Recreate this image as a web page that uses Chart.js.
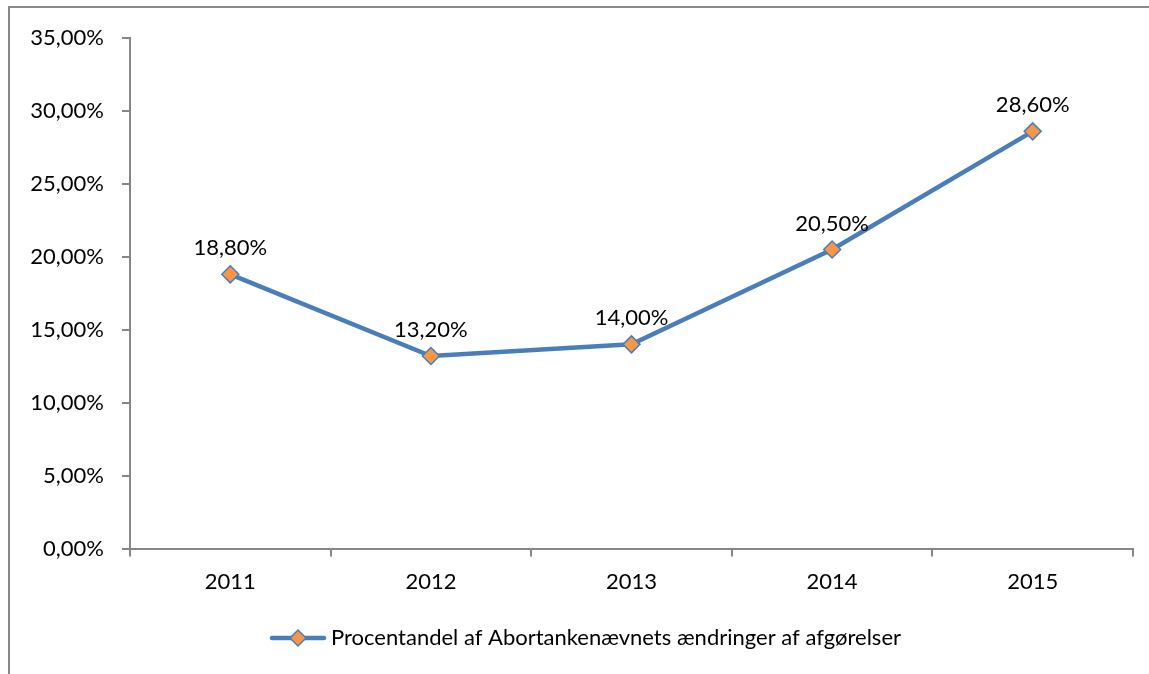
<!DOCTYPE html>
<html>
<head>
<meta charset="utf-8">
<script src="https://cdn.jsdelivr.net/npm/chart.js@4/dist/chart.umd.min.js"></script>
<style>
  html, body { margin: 0; padding: 0; background: #fff; }
  #wrap { width: 1149px; height: 674px; }
</style>
</head>
<body>
<div id="wrap"><canvas id="chart" width="1149" height="674"></canvas></div>
<script>
const years = ["2011", "2012", "2013", "2014", "2015"]
const shares = [18.8, 13.2, 14.0, 20.5, 28.6]
const seriesName = "Procentandel af Abortankenævnets ændringer af afgørelser"

const lineBlue = "#4A7EBB"
const markerOrange = "#F79646"
const axisGrey = "#868686"
const font = { family: "Lato, 'Open Sans', sans-serif", size: 22 }

// "18,80%" style, like the Danish Excel original
const pct = v => Number(v).toFixed(2).replace(".", ",") + "%"

// legend key: short line with a diamond in the middle.
// the key sits at the right end of a wider image so the legend lands
// where the original has it.
const keyBox = 78
function legendKey() {
  const c = document.createElement("canvas")
  c.width = keyBox + 14
  c.height = 22
  const g = c.getContext("2d")
  const x1 = c.width - 3
  const x0 = x1 - 52
  const mid = (x0 + x1) / 2
  g.strokeStyle = lineBlue
  g.lineWidth = 4.5
  g.lineCap = "round"
  g.beginPath()
  g.moveTo(x0, 11)
  g.lineTo(x1, 11)
  g.stroke()
  g.beginPath()
  g.moveTo(mid, 3); g.lineTo(mid + 8, 11); g.lineTo(mid, 19); g.lineTo(mid - 8, 11); g.closePath()
  g.fillStyle = markerOrange
  g.fill()
  g.lineWidth = 1.5
  g.stroke()
  return c
}

const frame = {
  id: "frame",
  beforeDraw(chart) {
    const ctx = chart.ctx
    ctx.save()
    ctx.strokeStyle = "#898989"
    ctx.lineWidth = 2
    ctx.beginPath()
    ctx.moveTo(9, chart.height)
    ctx.lineTo(9, 7)
    ctx.lineTo(chart.width, 7)
    ctx.stroke()
    ctx.restore()
  }
}

const valueLabels = {
  id: "valueLabels",
  afterDatasetsDraw(chart) {
    const ctx = chart.ctx
    const meta = chart.getDatasetMeta(0)
    ctx.save()
    ctx.font = `${font.size}px ${font.family}`
    ctx.fillStyle = "#000"
    ctx.textAlign = "center"
    ctx.textBaseline = "alphabetic"
    meta.data.forEach((pt, i) => {
      ctx.fillText(pct(shares[i]), pt.x, pt.y - 19)
    })
    ctx.restore()
  }
}

Chart.defaults.font.family = font.family
Chart.defaults.font.size = font.size
Chart.defaults.color = "#000"

new Chart(document.getElementById("chart"), {
  type: "line",
  data: {
    labels: years,
    datasets: [{
      label: seriesName,
      data: shares,
      borderColor: lineBlue,
      borderWidth: 4.5,
      tension: 0,
      pointStyle: "rectRot",
      pointRadius: 8.5,
      pointHoverRadius: 8.5,
      pointBackgroundColor: markerOrange,
      pointBorderColor: lineBlue,
      pointBorderWidth: 1.5
    }]
  },
  options: {
    responsive: false,
    animation: false,
    events: [],
    layout: { padding: { left: 10, right: 16, top: 38, bottom: 15 } },
    scales: {
      x: {
        offset: true,
        grid: { offset: true, drawOnChartArea: false, color: axisGrey, tickLength: 8, lineWidth: 2 },
        border: { color: axisGrey, width: 2 },
        ticks: { padding: 12, color: "#000", font }
      },
      y: {
        min: 0,
        max: 35,
        afterFit: s => { s.width = 120 },
        grid: { drawOnChartArea: false, color: axisGrey, tickLength: 8, lineWidth: 2 },
        border: { color: axisGrey, width: 2 },
        ticks: { stepSize: 5, padding: 18, color: "#000", font, callback: v => pct(v) }
      }
    },
    plugins: {
      tooltip: { enabled: false },
      legend: {
        position: "bottom",
        labels: {
          usePointStyle: true,
          pointStyleWidth: keyBox,
          font,
          color: "#000",
          padding: 20,
          generateLabels: chart => [{
            text: seriesName,
            pointStyle: legendKey(),
            fillStyle: markerOrange,
            strokeStyle: lineBlue,
            lineWidth: 0,
            datasetIndex: 0
          }]
        }
      }
    }
  },
  plugins: [frame, valueLabels]
})
</script>
</body>
</html>
